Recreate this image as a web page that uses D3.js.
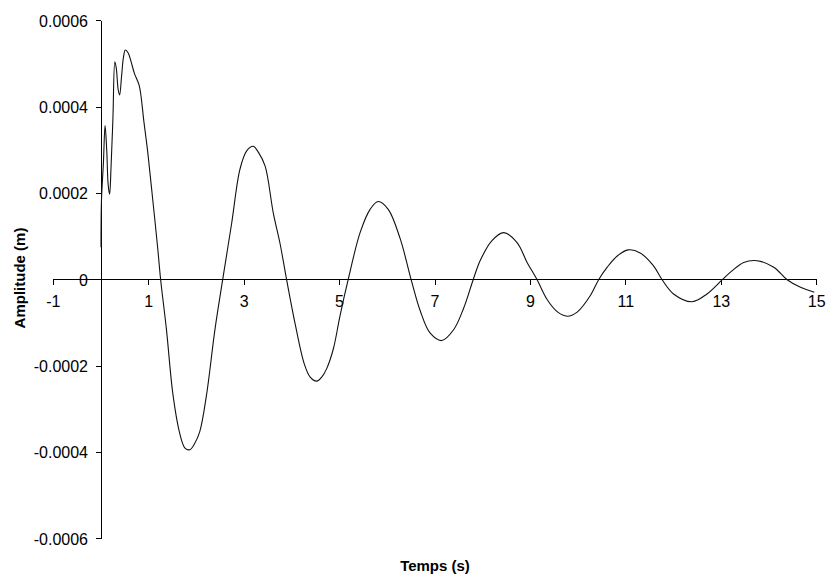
<!DOCTYPE html>
<html>
<head>
<meta charset="utf-8">
<script src="https://cdn.jsdelivr.net/npm/d3@7"></script>
<style>
  html, body { margin: 0; padding: 0; background: #fff; }
  svg { display: block; font-family: "Liberation Sans", Arial, sans-serif; }
</style>
</head>
<body>
<svg id="chart" width="827" height="574"></svg>
<script>
// Recorded displacement of the damped oscillator
const time = [
  0.00, 0.01, 0.05, 0.085, 0.12, 0.15, 0.18, 0.21, 0.25, 0.29, 0.32, 0.36, 0.39, 0.43, 0.47, 0.51,
  0.57, 0.63, 0.70, 0.80, 0.90, 0.98, 1.08, 1.19, 1.25, 1.37, 1.51, 1.65, 1.76, 1.86, 1.96, 2.07,
  2.21, 2.39, 2.55, 2.74, 2.91, 3.05, 3.19, 3.30, 3.44, 3.61, 3.75, 3.89, 4.07, 4.26, 4.38, 4.52,
  4.63, 4.73, 4.87, 5.01, 5.18, 5.43, 5.64, 5.81, 6.02, 6.27, 6.50, 6.69, 6.90, 7.14, 7.39, 7.60,
  7.80, 7.95, 8.19, 8.44, 8.72, 8.93, 9.14, 9.35, 9.56, 9.77, 9.98, 10.26, 10.43, 10.61, 10.82, 11.05,
  11.30, 11.58, 11.76, 12.00, 12.39, 12.70, 13.02, 13.23, 13.47, 13.75, 14.10, 14.38, 14.66, 14.95
];
const amplitude = [
  0.000075, 0.000185, 0.000270, 0.000357, 0.000300, 0.000220, 0.000198, 0.000260, 0.000375, 0.000505, 0.000490, 0.000440, 0.000428, 0.000470, 0.000515, 0.000532,
  0.000525, 0.000505, 0.000478, 0.000450, 0.000365, 0.000295, 0.000190, 0.000071, 0.0, -0.000114, -0.000268, -0.000356, -0.000390, -0.000394, -0.000380, -0.000352,
  -0.000268, -0.000114, 0.0, 0.000132, 0.000255, 0.000298, 0.000309, 0.000295, 0.000263, 0.000155, 0.000085, 0.0, -0.000103, -0.000195, -0.000225, -0.000235,
  -0.000225, -0.000206, -0.000160, -0.000083, 0.0, 0.000109, 0.000163, 0.000181, 0.000163, 0.000095, 0.0, -0.000072, -0.000124, -0.000141, -0.000116, -0.000066,
  0.0, 0.000045, 0.000090, 0.000109, 0.000086, 0.000040, 0.0, -0.000046, -0.000074, -0.0000845, -0.000075, -0.000036, 0.0, 0.000029, 0.000055, 0.000069,
  0.000062, 0.000032, 0.0, -0.000033, -0.000051, -0.000033, 0.0, 0.000021, 0.000040, 0.000044, 0.000029, 0.0, -0.0000175, -0.000029
];
const xTicks = [-1, 1, 3, 5, 7, 9, 11, 13, 15];
const yTicks = [0.0006, 0.0004, 0.0002, 0, -0.0002, -0.0004, -0.0006];
const yTickLabels = ["0.0006", "0.0004", "0.0002", "0", "-0.0002", "-0.0004", "-0.0006"];
const xTitle = "Temps (s)";
const yTitle = "Amplitude (m)";

const svg = d3.select("#chart");

const x = d3.scaleLinear().domain([-1, 15]).range([53.3, 816.7]);
const y = d3.scaleLinear().domain([-0.0006, 0.0006]).range([538.7, 20.7]);

const points = time.map((t, i) => [t, amplitude[i]]);

// Horizontal axis through zero
const xAxis = svg.append("g").attr("transform", `translate(0,${y(0)})`);
xAxis.append("line")
  .attr("x1", x(-1)).attr("x2", x(15))
  .attr("stroke", "#000").attr("stroke-width", 1).attr("shape-rendering", "crispEdges");
xAxis.selectAll("line.tick").data(xTicks).join("line")
  .attr("class", "tick")
  .attr("x1", d => x(d)).attr("x2", d => x(d))
  .attr("y1", 0).attr("y2", 5)
  .attr("stroke", "#000").attr("shape-rendering", "crispEdges");
xAxis.selectAll("text").data(xTicks).join("text")
  .attr("x", d => x(d)).attr("y", 27.8)
  .attr("text-anchor", "middle")
  .attr("font-size", 16).attr("fill", "#000")
  .text(d => d);

// Vertical axis through t = 0
const yAxis = svg.append("g").attr("transform", `translate(${x(0)},0)`);
yAxis.append("line")
  .attr("y1", y(0.0006)).attr("y2", y(-0.0006))
  .attr("stroke", "#000").attr("stroke-width", 1).attr("shape-rendering", "crispEdges");
yAxis.selectAll("line.tick").data(yTicks).join("line")
  .attr("class", "tick")
  .attr("x1", -5).attr("x2", 0)
  .attr("y1", d => y(d)).attr("y2", d => y(d))
  .attr("stroke", "#000").attr("shape-rendering", "crispEdges");
yAxis.selectAll("text").data(yTicks).join("text")
  .attr("x", -13).attr("y", d => y(d) + 5.8)
  .attr("text-anchor", "end")
  .attr("font-size", 16).attr("fill", "#000")
  .text((d, i) => yTickLabels[i]);

// Signal trace
const line = d3.line()
  .x(d => x(d[0]))
  .y(d => y(d[1]))
  .curve(d3.curveCatmullRom.alpha(0.5));

svg.append("path")
  .datum(points)
  .attr("d", line)
  .attr("fill", "none")
  .attr("stroke", "#111")
  .attr("stroke-width", 1.1);

// Axis titles
svg.append("text")
  .attr("x", 435).attr("y", 570.5)
  .attr("text-anchor", "middle")
  .attr("font-size", 15).attr("font-weight", "bold").attr("fill", "#000")
  .text(xTitle);

svg.append("text")
  .attr("transform", "translate(24.5,278) rotate(-90)")
  .attr("text-anchor", "middle")
  .attr("font-size", 15).attr("font-weight", "bold").attr("fill", "#000")
  .text(yTitle);
</script>
</body>
</html>
